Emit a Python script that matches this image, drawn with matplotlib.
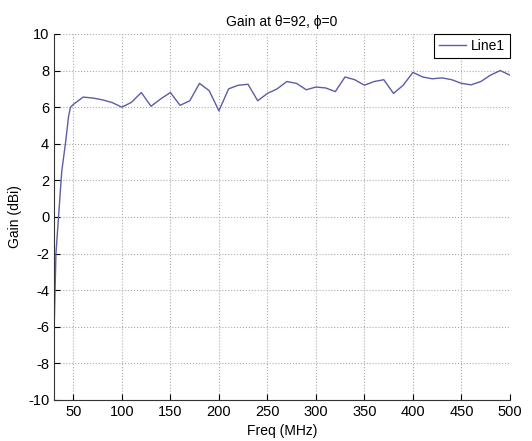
import matplotlib
matplotlib.use("Agg")
import matplotlib.pyplot as plt

# frequency (MHz) and gain (dBi)
freq = [30, 32, 34, 38, 42, 45, 47, 50, 60, 70, 80, 90, 100, 110, 120, 130, 140,
        150, 160, 170, 180, 190, 200, 210, 220, 230, 240, 250, 260, 270, 280,
        290, 300, 310, 320, 330, 340, 350, 360, 370, 380, 390, 400, 410, 420,
        430, 440, 450, 460, 470, 480, 490, 500]
gain = [-6.4, -2.0, -0.5, 2.5, 4.1, 5.5, 6.0, 6.15, 6.55, 6.5, 6.4, 6.25, 6.0,
        6.27, 6.8, 6.05, 6.45, 6.8, 6.1, 6.35, 7.3, 6.9, 5.8, 7.0, 7.2, 7.25,
        6.35, 6.75, 7.0, 7.4, 7.3, 6.95, 7.1, 7.05, 6.85, 7.65, 7.5, 7.2, 7.4,
        7.5, 6.75, 7.2, 7.9, 7.65, 7.55, 7.6, 7.5, 7.3, 7.22, 7.4, 7.75, 8.0,
        7.75]

xticks = [50, 100, 150, 200, 250, 300, 350, 400, 450, 500]
yticks = [-10, -8, -6, -4, -2, 0, 2, 4, 6, 8, 10]

plt.rcParams['font.family'] = ['Liberation Sans', 'DejaVu Sans']
plt.rcParams['axes.unicode_minus'] = False

fig = plt.figure(figsize=(5.32, 4.41), dpi=100)
ax = fig.add_axes([0.1015, 0.093, 0.857, 0.830])

ax.plot(freq, gain, color='#5c5ca8', linewidth=1.0, label='Line1')

ax.set_xlim(30, 500)
ax.set_ylim(-10, 10)
ax.set_xticks(xticks)
ax.set_yticks(yticks)
ax.tick_params(direction='in', length=4, labelsize=10.5, width=0.8)

ax.grid(True, linestyle=':', color='#aaaaaa', linewidth=0.8)
ax.spines['top'].set_visible(False)
ax.spines['right'].set_visible(False)
ax.spines['left'].set_color('#333333')
ax.spines['bottom'].set_color('#333333')

ax.set_title('Gain at θ=92, ϕ=0', fontsize=10)
ax.set_xlabel('Freq (MHz)', fontsize=10)
ax.set_ylabel('Gain (dBi)', fontsize=10)

leg = ax.legend(loc='upper right', borderaxespad=0, fancybox=False,
                edgecolor='black', fontsize=10, handlelength=1.9,
                handletextpad=0.4, borderpad=0.35, framealpha=1)
leg.get_frame().set_linewidth(0.8)

fig.savefig('out.png', dpi=100)
